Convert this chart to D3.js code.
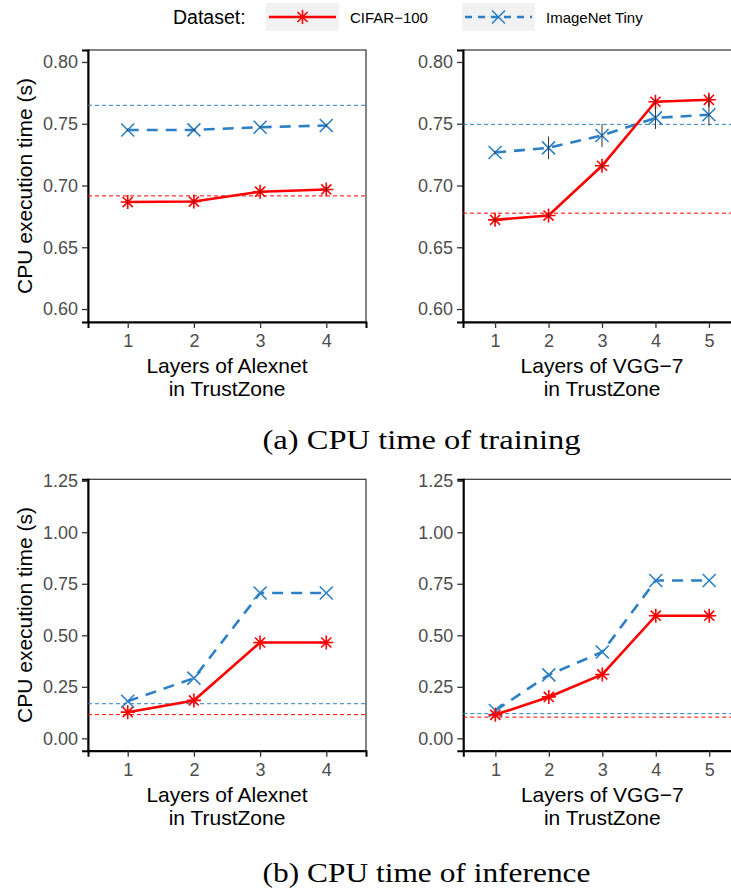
<!DOCTYPE html>
<html>
<head>
<meta charset="utf-8">
<script src="https://cdn.jsdelivr.net/npm/d3@7"></script>
<style>
  body { margin: 0; background: #fff; }
  svg { display: block; }
  .tick-label { font-family: "Liberation Sans", Arial, sans-serif; font-size: 18px; fill: #4d4d4d; }
  .axis-title { font-family: "Liberation Sans", Arial, sans-serif; font-size: 21px; fill: #000; }
  .legend-title { font-family: "Liberation Sans", Arial, sans-serif; font-size: 19.5px; fill: #000; }
  .legend-label { font-family: "Liberation Sans", Arial, sans-serif; font-size: 15px; fill: #000; }
  .caption { font-family: "Liberation Serif", "Times New Roman", serif; font-size: 27px; fill: #000; }
</style>
</head>
<body>
<svg id="chart" width="731" height="892"></svg>
<script>
// ---- data ----
const alexLayers = ['1', '2', '3', '4'];
const vggLayers = ['1', '2', '3', '4', '5'];

// (a) training, Alexnet
const trainAlexCifar = [0.6866, 0.6870, 0.6950, 0.6968];
const trainAlexCifarErr = [0.0015, 0.0015, 0.0015, 0.0020];
const trainAlexImagenet = [0.7449, 0.7450, 0.7472, 0.7486];
const trainAlexImagenetErr = [0.0010, 0.0010, 0.0010, 0.0015];
const trainAlexBase = { cifar: 0.6916, imagenet: 0.7649 };

// (a) training, VGG-7
const trainVggCifar = [0.6722, 0.6757, 0.7160, 0.7678, 0.7694];
const trainVggCifarErr = [0.0015, 0.0015, 0.0020, 0.0025, 0.0040];
const trainVggImagenet = [0.7267, 0.7305, 0.7405, 0.7547, 0.7573];
const trainVggImagenetErr = [0.0015, 0.0092, 0.0094, 0.0090, 0.0087];
const trainVggBase = { cifar: 0.6776, imagenet: 0.7495 };

// (b) inference, Alexnet
const infAlexCifar = [0.127, 0.184, 0.465, 0.465];
const infAlexImagenet = [0.180, 0.292, 0.705, 0.705];
const infAlexBase = { cifar: 0.115, imagenet: 0.168 };

// (b) inference, VGG-7
const infVggCifar = [0.114, 0.201, 0.310, 0.595, 0.595];
const infVggImagenet = [0.135, 0.308, 0.419, 0.766, 0.766];
const infVggBase = { cifar: 0.103, imagenet: 0.120 };

const trainTicks = [0.60, 0.65, 0.70, 0.75, 0.80];
const infTicks = [0.00, 0.25, 0.50, 0.75, 1.00, 1.25];

const RED = '#ff0000';
const BLUE = '#2b7fc5';

const svg = d3.select('#chart');

function starPath(r) {
  const d = r * 0.72;
  return `M${-r},0L${r},0M0,${-r}L0,${r}M${-d},${-d}L${d},${d}M${-d},${d}L${d},${-d}`;
}
function crossPath(r) {
  return `M${-r},${-r}L${r},${r}M${-r},${r}L${r},${-r}`;
}

function drawPanel(p) {
  const g = svg.append('g');
  const x = d3.scalePoint().domain(p.layers).range([p.left, p.left + p.width]).padding(0.6);
  const y = d3.scaleLinear().domain(p.yDomain).range([p.top + p.height, p.top]);

  // panel border
  g.append('rect')
    .attr('x', p.left).attr('y', p.top)
    .attr('width', p.width).attr('height', p.height)
    .attr('fill', 'none').attr('stroke', '#333').attr('stroke-width', 1.2);

  const yAxis = g.append('g')
    .attr('transform', `translate(${p.left},0)`)
    .call(d3.axisLeft(y).tickValues(p.ticks).tickFormat(d3.format('.2f')).tickSize(6).tickPadding(4));
  const xAxis = g.append('g')
    .attr('transform', `translate(0,${p.top + p.height})`)
    .call(d3.axisBottom(x).tickSize(6).tickPadding(3));
  [yAxis, xAxis].forEach(a => {
    a.attr('font-size', null).attr('font-family', null);
    a.select('.domain').attr('stroke', '#000').attr('stroke-width', 2);
    a.selectAll('.tick line').attr('stroke', '#333').attr('stroke-width', 1.3);
    a.selectAll('.tick text').attr('class', 'tick-label');
  });
  xAxis.selectAll('.tick text').attr('dy', '0.9em');

  // x title, two lines
  p.xTitle.forEach((line, i) => {
    g.append('text').attr('class', 'axis-title')
      .attr('x', p.left + p.width / 2)
      .attr('y', p.top + p.height + 51 + i * 23)
      .attr('text-anchor', 'middle')
      .text(line);
  });
  if (p.yTitle) {
    g.append('text').attr('class', 'axis-title')
      .attr('transform', `translate(24,${p.top + p.height / 2}) rotate(-90)`)
      .attr('text-anchor', 'middle')
      .attr('dominant-baseline', 'central')
      .text(p.yTitle);
  }

  // reference (baseline) lines
  [[p.base.imagenet, BLUE], [p.base.cifar, RED]].forEach(([v, c]) => {
    g.append('line')
      .attr('x1', p.left).attr('x2', p.left + p.width)
      .attr('y1', y(v)).attr('y2', y(v))
      .attr('stroke', c).attr('stroke-width', 1)
      .attr('stroke-dasharray', '4,3');
  });

  const series = [
    { vals: p.imagenet, err: p.imagenetErr, color: BLUE, dash: '11,8', marker: crossPath(6.5) },
    { vals: p.cifar, err: p.cifarErr, color: RED, dash: null, marker: starPath(7) }
  ];
  const line = d3.line().x((d, i) => x(p.layers[i])).y(d => y(d));

  series.forEach(s => {
    g.append('path')
      .attr('d', line(s.vals))
      .attr('fill', 'none')
      .attr('stroke', s.color)
      .attr('stroke-width', 2.6)
      .attr('stroke-dasharray', s.dash);
    g.selectAll(null).data(s.vals).enter().append('path')
      .attr('transform', (d, i) => `translate(${x(p.layers[i])},${y(d)})`)
      .attr('d', s.marker)
      .attr('fill', 'none')
      .attr('stroke', s.color)
      .attr('stroke-width', 1.6);
  });
  // error bars drawn on top
  series.forEach(s => {
    if (!s.err) return;
    g.selectAll(null).data(s.vals).enter().append('line')
      .attr('x1', (d, i) => x(p.layers[i])).attr('x2', (d, i) => x(p.layers[i]))
      .attr('y1', (d, i) => y(d - s.err[i])).attr('y2', (d, i) => y(d + s.err[i]))
      .attr('stroke', '#333').attr('stroke-width', 1);
  });
}

const H_TOP = 272, H_BOT = 271.4;

drawPanel({
  left: 88, top: 50, width: 278, height: H_TOP,
  layers: alexLayers, yDomain: [0.5895, 0.8097], ticks: trainTicks,
  cifar: trainAlexCifar, cifarErr: trainAlexCifarErr,
  imagenet: trainAlexImagenet, imagenetErr: trainAlexImagenetErr,
  base: trainAlexBase,
  xTitle: ['Layers of Alexnet', 'in TrustZone'], yTitle: 'CPU execution time (s)'
});
drawPanel({
  left: 463, top: 50, width: 278, height: H_TOP,
  layers: vggLayers, yDomain: [0.5895, 0.8097], ticks: trainTicks,
  cifar: trainVggCifar, cifarErr: trainVggCifarErr,
  imagenet: trainVggImagenet, imagenetErr: trainVggImagenetErr,
  base: trainVggBase,
  xTitle: ['Layers of VGG\u22127', 'in TrustZone']
});
drawPanel({
  left: 88, top: 479.3, width: 278, height: H_BOT,
  layers: alexLayers, yDomain: [-0.060, 1.257], ticks: infTicks,
  cifar: infAlexCifar, imagenet: infAlexImagenet,
  base: infAlexBase,
  xTitle: ['Layers of Alexnet', 'in TrustZone'], yTitle: 'CPU execution time (s)'
});
drawPanel({
  left: 463.3, top: 479.3, width: 278, height: H_BOT,
  layers: vggLayers, yDomain: [-0.060, 1.257], ticks: infTicks,
  cifar: infVggCifar, imagenet: infVggImagenet,
  base: infVggBase,
  xTitle: ['Layers of VGG\u22127', 'in TrustZone']
});

// captions
svg.append('text').attr('class', 'caption')
  .attr('x', 262.5).attr('y', 449.3)
  .attr('textLength', 318).attr('lengthAdjust', 'spacingAndGlyphs')
  .text('(a) CPU time of training');
svg.append('text').attr('class', 'caption')
  .attr('x', 262.5).attr('y', 882)
  .attr('textLength', 328).attr('lengthAdjust', 'spacingAndGlyphs')
  .text('(b) CPU time of inference');

// legend
const legend = svg.append('g');
legend.append('text').attr('class', 'legend-title')
  .attr('x', 173).attr('y', 24).text('Dataset:');
const keys = [
  { x: 266, label: 'CIFAR\u2212100', color: RED, dash: null, marker: starPath(7) },
  { x: 462, label: 'ImageNet Tiny', color: BLUE, dash: '7,6', marker: crossPath(6.5) }
];
keys.forEach(k => {
  legend.append('rect')
    .attr('x', k.x).attr('y', 3).attr('width', 73).attr('height', 28)
    .attr('fill', '#f2f2f2');
  legend.append('line')
    .attr('x1', k.x + 3).attr('x2', k.x + 70)
    .attr('y1', 17).attr('y2', 17)
    .attr('stroke', k.color).attr('stroke-width', 2.6)
    .attr('stroke-dasharray', k.dash);
  legend.append('path')
    .attr('transform', `translate(${k.x + 36.5},17)`)
    .attr('d', k.marker)
    .attr('fill', 'none').attr('stroke', k.color).attr('stroke-width', 1.6);
  legend.append('text').attr('class', 'legend-label')
    .attr('x', k.x + 84).attr('y', 22.5).text(k.label);
});
</script>
</body>
</html>
